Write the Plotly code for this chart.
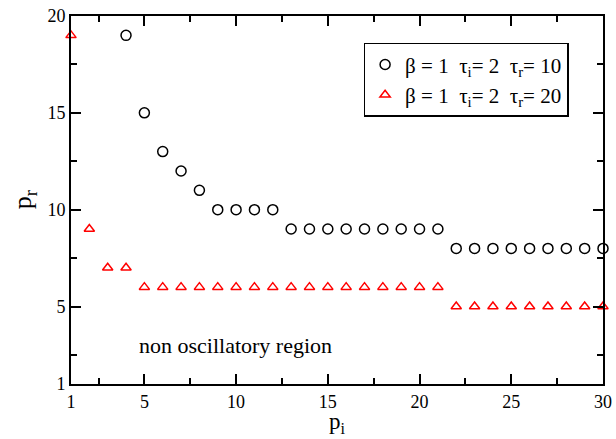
import plotly.graph_objects as go

# data
x_black = list(range(4, 31))
y_black = [19, 15, 13, 12, 11, 10, 10, 10, 10] + [9] * 9 + [8] * 9
x_red = list(range(1, 31))
y_red = [19, 9, 7, 7] + [6] * 17 + [5] * 9

x_tickvals = [1, 5, 10, 15, 20, 25, 30]
y_tickvals = [1, 5, 10, 15, 20]
x_minor = [2.5, 7.5, 12.5, 17.5, 22.5, 27.5]
y_minor = [2.5, 7.5, 12.5, 17.5]

ff = "Liberation Serif, Times New Roman, serif"

fig = go.Figure()
fig.add_trace(go.Scatter(
    x=x_black, y=y_black, mode="markers", cliponaxis=False,
    name="β = 1  τ<sub>i</sub>= 2  τ<sub>r</sub>= 10",
    marker=dict(symbol="circle-open", size=10, color="black", line=dict(width=1.5)),
))
fig.add_trace(go.Scatter(
    x=x_red, y=y_red, mode="markers", cliponaxis=False,
    name="β = 1  τ<sub>i</sub>= 2  τ<sub>r</sub>= 20",
    marker=dict(symbol="triangle-up-open", size=9, color="red", line=dict(width=1.5)),
))

axis_common = dict(
    showgrid=False, zeroline=False, showline=True, linecolor="black", linewidth=2,
    mirror="allticks", ticks="inside", ticklen=10, tickwidth=1.5, tickcolor="black",
    tickfont=dict(family=ff, size=18, color="black"),
    automargin=False, ticklabeloverflow="allow",
)

fig.update_xaxes(
    range=[1, 30], tickmode="array", tickvals=x_tickvals,
    minor=dict(tickmode="array", tickvals=x_minor, ticks="inside", ticklen=6, tickwidth=1.5, tickcolor="black"),
    **axis_common,
)
fig.update_yaxes(
    range=[1, 20], tickmode="array", tickvals=y_tickvals,
    minor=dict(tickmode="array", tickvals=y_minor, ticks="inside", ticklen=6, tickwidth=1.5, tickcolor="black"),
    **axis_common,
)

# axis titles as annotations (bottom of the plot area is 384 px; 1 unit of paper = 368 px)
fig.add_annotation(
    x=0.5, y=-(438 - 384) / 368, xref="paper", yref="paper", text="p<sub>i</sub>", showarrow=False,
    xanchor="center", yanchor="bottom", borderpad=0, font=dict(family=ff, size=23, color="black"),
)
fig.add_annotation(
    x=-0.088, y=0.5, xref="paper", yref="paper", text="p<sub>r</sub>", showarrow=False,
    xanchor="center", yanchor="middle", textangle=-90, font=dict(family=ff, size=26, color="black"),
)

fig.add_annotation(
    x=4.6, y=3.0, xref="x", yref="y", text="non oscillatory region", showarrow=False,
    xanchor="left", yanchor="middle", font=dict(family=ff, size=22, color="black"),
)

fig.update_layout(
    width=616, height=439,
    margin=dict(l=71, r=13, t=16, b=55),
    paper_bgcolor="white", plot_bgcolor="white",
    showlegend=True,
    legend=dict(
        x=0.55, y=0.927, xanchor="left", yanchor="top",
        bordercolor="black", borderwidth=1.5, bgcolor="white",
        font=dict(family=ff, size=21, color="black"),
        itemwidth=30, tracegroupgap=0,
    ),
)

fig.write_html("out.html")
